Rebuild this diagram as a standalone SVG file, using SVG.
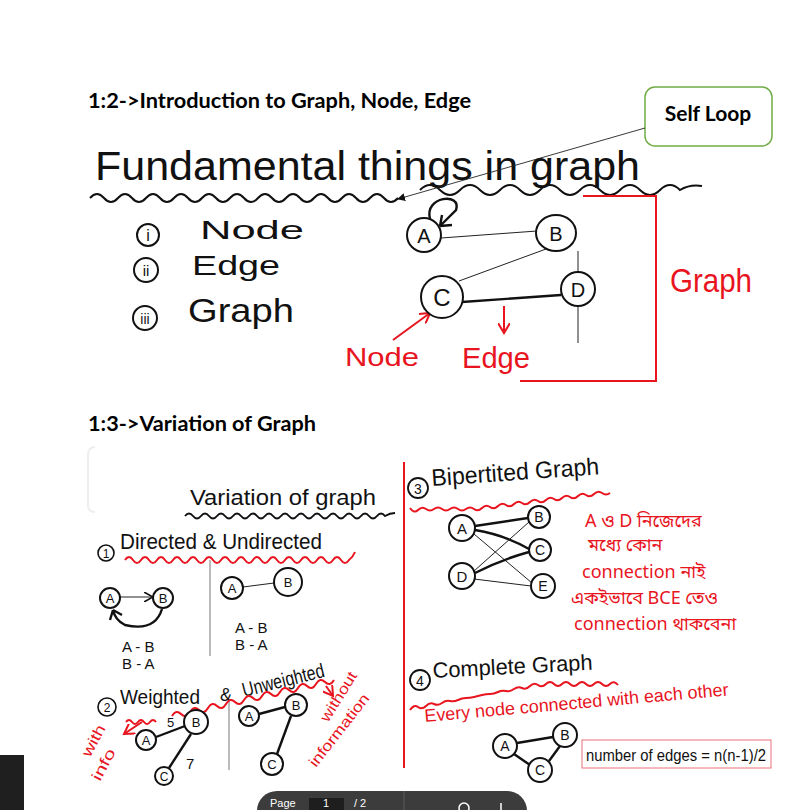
<svg xmlns="http://www.w3.org/2000/svg" width="789" height="810" viewBox="0 0 789 810">
<defs>
<style>
.h{font-family:"Lato","Liberation Sans",sans-serif;font-weight:bold;fill:#000}
.w{font-family:"Liberation Sans Narrow","Liberation Sans",sans-serif;fill:#111}
.r{font-family:"Liberation Sans Narrow","Liberation Sans",sans-serif;fill:#e8141e}
.bn{font-family:"Noto Sans Bengali","Noto Sans","Liberation Sans",sans-serif;fill:#e8141e}
.n{fill:#fff;stroke:#111;stroke-width:2}
.nt{font-family:"Liberation Sans",sans-serif;fill:#111;text-anchor:middle}
.e{stroke:#222;stroke-width:1;fill:none}
.eb{stroke:#111;stroke-width:2.4;fill:none}
.wv{fill:none;stroke:#111;stroke-width:2}
.wr{fill:none;stroke:#e8141e;stroke-width:2}
.red{stroke:#e8141e;stroke-width:2;fill:none}
</style>
<marker id="ah" markerWidth="8" markerHeight="8" refX="7" refY="4" orient="auto" markerUnits="userSpaceOnUse"><path d="M0,0 L8,4 L0,8 z" fill="#111"/></marker>
<marker id="ao" markerWidth="10" markerHeight="10" refX="8" refY="5" orient="auto" markerUnits="userSpaceOnUse"><path d="M0,0 L9,5 L0,10" fill="none" stroke="#111" stroke-width="1.6"/></marker>
<marker id="ar" markerWidth="12" markerHeight="12" refX="10" refY="6" orient="auto" markerUnits="userSpaceOnUse"><path d="M0,0 L10,6 L0,12" fill="none" stroke="#e8141e" stroke-width="2"/></marker>
</defs>
<rect width="789" height="810" fill="#fff"/>

<!-- Section 1 -->
<text class="h" x="88" y="108" font-size="21" textLength="383" lengthAdjust="spacingAndGlyphs">1:2-&gt;Introduction to Graph, Node, Edge</text>

<g id="selfloop-callout">
<rect x="645" y="87" width="127" height="59" rx="10" fill="#fff" stroke="#70ad47" stroke-width="1.5"/>
<text class="h" x="708" y="121" font-size="21" text-anchor="middle">Self Loop</text>
</g>

<g id="title1">
<text class="w" x="95" y="180" font-size="40" textLength="545" lengthAdjust="spacingAndGlyphs">Fundamental things in graph</text>
<path class="wv" d="M90 198 q7 -8 14 0 t14 0 t14 0 t14 0 t14 0 t14 0 t14 0 t14 0 t14 0 t14 0 t14 0 t14 0 t14 0 t14 0 t14 0 t14 0 t14 0 t14 0 t14 0 t14 0 t14 0 t14 0"/>
<path class="wv" d="M420 190 q10 -10 20 0 t20 0 t20 0 t20 0 t20 0 t20 0 t20 0 t20 0 t20 0 t20 0 t20 0 t20 0 t20 0 q10 -6 22 -4"/>
</g>

<g id="connectors">
<line x1="645" y1="128" x2="398" y2="199" stroke="#222" stroke-width="0.9" marker-end="url(#ah)"/>
<line class="e" x1="441" y1="238" x2="537" y2="231"/>
<line class="e" x1="546" y1="249" x2="459" y2="281"/>
<line class="e" x1="578" y1="272" x2="578" y2="251"/>
<line class="e" x1="578" y1="343" x2="578" y2="307"/>
<line class="eb" x1="462" y1="302" x2="561" y2="295"/>
<path class="eb" d="M430 219 C424 196 462 192 456 210 L440 226 M440 226 L452 225 M440 226 L442 215"/>
<path class="red" d="M393 340 L430 313" marker-end="url(#ar)"/>
<path class="red" d="M504 306 L504 333" marker-end="url(#ar)"/>
<!-- section 2 connectors -->
<line class="e" x1="120" y1="597" x2="152" y2="597" marker-end="url(#ao)"/>
<path class="eb" d="M162 609 Q155 632 125 625 Q115 620 113 610" stroke-width="2"/>
<path class="eb" d="M113 610 l-3 10 M113 610 l9 5" stroke-width="2"/>
<line class="e" x1="243" y1="587" x2="274" y2="583"/>
<line class="eb" x1="156" y1="737" x2="185" y2="726" stroke-width="2"/>
<line class="eb" x1="191" y1="734" x2="169" y2="768" stroke-width="2"/>
<line class="eb" x1="259" y1="714" x2="285" y2="707" stroke-width="2"/>
<line class="eb" x1="291" y1="716" x2="277" y2="754" stroke-width="2"/>
<!-- bipartite -->
<path class="eb" d="M475 526 L528 518" stroke-width="2"/>
<path class="eb" d="M475 530 Q505 535 529 549" stroke-width="2"/>
<line class="e" x1="474" y1="534" x2="532" y2="583" stroke-width="0.7"/>
<line class="e" x1="474" y1="571" x2="529" y2="522" stroke-width="0.7"/>
<path class="eb" d="M475 573 Q500 560 529 552" stroke-width="2"/>
<line class="e" x1="474" y1="579" x2="531" y2="586" stroke-width="0.7"/>
<!-- complete -->
<line class="eb" x1="517" y1="743" x2="553" y2="737" stroke-width="2"/>
<line class="eb" x1="514" y1="754" x2="530" y2="765" stroke-width="2"/>
<line class="eb" x1="560" y1="746" x2="549" y2="761" stroke-width="2"/>
<!-- dividers -->
<line x1="210" y1="560" x2="210" y2="656" stroke="#777" stroke-width="1"/>
<line x1="229" y1="700" x2="229" y2="770" stroke="#777" stroke-width="1"/>
<line x1="404" y1="462" x2="404" y2="768" stroke="#e8141e" stroke-width="2"/>
</g>

<g id="list1">
<circle cx="148" cy="235" r="11" fill="none" stroke="#111" stroke-width="2"/>
<text class="nt" x="148" y="241" font-size="16">i</text>
<text class="w" x="200" y="239" font-size="26" textLength="104" lengthAdjust="spacingAndGlyphs">Node</text>
<circle cx="146" cy="270" r="12" fill="none" stroke="#111" stroke-width="2"/>
<text class="nt" x="146" y="276" font-size="15">ii</text>
<text class="w" x="192" y="275" font-size="27" textLength="88" lengthAdjust="spacingAndGlyphs">Edge</text>
<circle cx="145" cy="318" r="12" fill="none" stroke="#111" stroke-width="2"/>
<text class="nt" x="145" y="324" font-size="14">iii</text>
<text class="w" x="188" y="322" font-size="33" textLength="106" lengthAdjust="spacingAndGlyphs">Graph</text>
</g>

<g id="node-A"><circle class="n" cx="424" cy="235" r="17"/><text class="nt" x="424" y="243" font-size="20">A</text></g>
<g id="node-B"><ellipse class="n" cx="556" cy="233" rx="20" ry="18"/><text class="nt" x="556" y="241" font-size="20">B</text></g>
<g id="node-C"><circle class="n" cx="442" cy="297" r="21" stroke-width="3"/><text class="nt" x="442" y="306" font-size="24">C</text></g>
<g id="node-D"><circle class="n" cx="578" cy="289" r="17"/><text class="nt" x="578" y="297" font-size="20">D</text></g>

<g id="labels1">
<text class="r" x="345" y="366" font-size="26" textLength="74" lengthAdjust="spacingAndGlyphs">Node</text>
<text class="r" x="462" y="368" font-size="30" textLength="68" lengthAdjust="spacingAndGlyphs">Edge</text>
<path class="red" d="M583 196 L656 196 L656 381 L520 381"/>
<text class="r" x="670" y="292" font-size="34" textLength="82" lengthAdjust="spacingAndGlyphs">Graph</text>
</g>

<!-- Section 2 -->
<text class="h" x="88" y="431" font-size="21" textLength="228" lengthAdjust="spacingAndGlyphs">1:3-&gt;Variation of Graph</text>
<path d="M95 447 Q88 447 88 455 L88 505 Q88 512 95 512" fill="none" stroke="#eee" stroke-width="2"/>

<g id="title2">
<text class="w" x="190" y="505" font-size="22" textLength="186" lengthAdjust="spacingAndGlyphs">Variation of graph</text>
<path class="wv" d="M185 516 q4 -5 8 0 t8 0 t8 0 t8 0 t8 0 t8 0 t8 0 t8 0 t8 0 t8 0 t8 0 t8 0 t8 0 t8 0 t8 0 t8 0 t8 0 t8 0 t8 0 t8 0 t8 0 t8 0 t8 0 t8 0 t8 0 q5 -3 10 -3" stroke-width="1.6"/>
</g>

<g id="directed">
<circle cx="106" cy="553" r="8" fill="none" stroke="#111" stroke-width="1.6"/>
<text class="nt" x="106" y="558" font-size="12">1</text>
<text class="w" x="120" y="549" font-size="22" textLength="202" lengthAdjust="spacingAndGlyphs">Directed &amp; Undirected</text>
<path class="wr" d="M125 560 q4 -6 8 0 t8 0 t8 0 t8 0 t8 0 t8 0 t8 0 t8 0 t8 0 t8 0 t8 0 t8 0 t8 0 t8 0 t8 0 t8 0 t8 0 t8 0 t8 0 t8 0 t8 0 t8 0 t8 0 t8 0 t8 0 t8 0 t8 0 t8 0 q4 -3 6 -8"/>
<g id="d-A"><circle class="n" cx="110" cy="598" r="10" stroke-width="1.8"/><text class="nt" x="110" y="603" font-size="13">A</text></g>
<g id="d-B"><circle class="n" cx="163" cy="598" r="10" stroke-width="1.8"/><text class="nt" x="163" y="603" font-size="13">B</text></g>
<text class="w" x="122" y="652" font-size="15">A - B</text>
<text class="w" x="122" y="669" font-size="15">B - A</text>
<g id="u-A"><circle class="n" cx="232" cy="588" r="11" stroke-width="1.8"/><text class="nt" x="232" y="593" font-size="13">A</text></g>
<g id="u-B"><circle class="n" cx="288" cy="582" r="14" stroke-width="1.8"/><text class="nt" x="288" y="587" font-size="13">B</text></g>
<text class="w" x="235" y="633" font-size="15">A - B</text>
<text class="w" x="235" y="650" font-size="15">B - A</text>
</g>

<g id="weighted">
<circle cx="107" cy="707" r="9" fill="none" stroke="#111" stroke-width="1.6"/>
<text class="nt" x="107" y="712" font-size="12">2</text>
<text class="w" x="120" y="704" font-size="21" textLength="80" lengthAdjust="spacingAndGlyphs">Weighted</text>
<text class="w" x="220" y="701" font-size="18">&amp;</text>
<text class="w" x="244" y="697" font-size="20" textLength="84" lengthAdjust="spacingAndGlyphs" transform="rotate(-14 244 697)">Unweighted</text>
<path class="wr" d="M172 716 q4 -7 9 -2 t9 -2 t9 -2 t9 -2 t9 -2 t9 -2 t9 -2 t9 -2 t9 -2 t9 -2 t9 -2 t9 -2 t9 -2 t9 -2 t9 -2 t9 -2 t9 -2 t9 -2"/>
<path class="red" d="M326 686 L333 696" marker-end="url(#ar)"/>
<path class="red" d="M142 722 L124 734" marker-end="url(#ar)"/>
<path class="wr" d="M126 722 q3 -4 6 0 t6 0 t6 0 t6 0 t6 0" stroke-width="1.6"/>
<text class="r" x="90" y="758" font-size="15" textLength="34" lengthAdjust="spacingAndGlyphs" transform="rotate(-62 90 758)">with</text>
<text class="r" x="100" y="782" font-size="15" textLength="34" lengthAdjust="spacingAndGlyphs" transform="rotate(-62 100 782)">info</text>
<g id="w-A"><circle class="n" cx="146" cy="740" r="10" stroke-width="1.8"/><text class="nt" x="146" y="745" font-size="13">A</text></g>
<g id="w-B"><circle class="n" cx="196" cy="722" r="12" stroke-width="1.8"/><text class="nt" x="196" y="727" font-size="13">B</text></g>
<g id="w-C"><circle class="n" cx="164" cy="776" r="9" stroke-width="1.8"/><text class="nt" x="164" y="781" font-size="12">C</text></g>
<text class="w" x="167" y="727" font-size="13">5</text>
<text class="w" x="186" y="769" font-size="15">7</text>
<g id="uw-A"><circle class="n" cx="249" cy="716" r="10" stroke-width="1.8"/><text class="nt" x="249" y="721" font-size="13">A</text></g>
<g id="uw-B"><circle class="n" cx="296" cy="705" r="11" stroke-width="1.8"/><text class="nt" x="296" y="710" font-size="13">B</text></g>
<g id="uw-C"><circle class="n" cx="272" cy="764" r="11" stroke-width="1.8"/><text class="nt" x="272" y="769" font-size="13">C</text></g>
<text class="r" x="328" y="723" font-size="15" textLength="56" lengthAdjust="spacingAndGlyphs" transform="rotate(-58 328 723)">without</text>
<text class="r" x="316" y="768" font-size="15" textLength="88" lengthAdjust="spacingAndGlyphs" transform="rotate(-52 316 768)">information</text>
</g>

<g id="bipartite">
<circle cx="418" cy="488" r="10" fill="none" stroke="#111" stroke-width="1.8"/>
<text class="nt" x="418" y="494" font-size="14">3</text>
<text class="w" x="432" y="486" font-size="24" textLength="168" lengthAdjust="spacingAndGlyphs" transform="rotate(-4 432 486)">Bipertited Graph</text>
<path class="wr" d="M410 508 q4 6 8 2 t8 -1 t8 0 t8 0 t8 0 t8 0 t8 0 t8 0 t8 -1 t8 -1 t8 -1 t8 -1 t8 -1 t8 -1 t8 -1 t8 -1 t8 -1 t8 -1 t8 -1 t8 -1 t8 -1 t8 -1 t8 -1 t8 -1 t8 0"/>
<g id="bp-A"><circle class="n" cx="462" cy="528" r="13" stroke-width="1.8"/><text class="nt" x="462" y="534" font-size="15">A</text></g>
<g id="bp-D"><circle class="n" cx="462" cy="576" r="13" stroke-width="1.8"/><text class="nt" x="462" y="582" font-size="15">D</text></g>
<g id="bp-B"><circle class="n" cx="539" cy="517" r="11" stroke-width="1.8"/><text class="nt" x="539" y="522" font-size="14">B</text></g>
<g id="bp-C"><circle class="n" cx="540" cy="550" r="11" stroke-width="1.8"/><text class="nt" x="540" y="555" font-size="14">C</text></g>
<g id="bp-E"><circle class="n" cx="543" cy="586" r="12" stroke-width="1.8"/><text class="nt" x="543" y="591" font-size="14">E</text></g>
<text class="bn" x="585" y="527" font-size="18">A ও D নিজেদের</text>
<text class="bn" x="588" y="551" font-size="18">মধ্যে কোন</text>
<text class="bn" x="582" y="578" font-size="18">connection নাই</text>
<text class="bn" x="571" y="604" font-size="18">একইভাবে BCE তেও</text>
<text class="bn" x="574" y="630" font-size="18">connection থাকবেনা</text>
</g>

<g id="complete">
<circle cx="420" cy="680" r="10" fill="none" stroke="#111" stroke-width="1.8"/>
<text class="nt" x="420" y="686" font-size="14">4</text>
<text class="w" x="433" y="678" font-size="22" textLength="160" lengthAdjust="spacingAndGlyphs" transform="rotate(-3 433 678)">Complete Graph</text>
<path class="wr" d="M410 710 q4 -6 8 -3 t8 -1 t8 -2 t8 -1 t8 -2 t8 -1 t8 -2 t8 -1 t8 -2 t8 -1 t8 -2 t8 -1 t8 -2 t8 -1 t8 -2 t8 -1 t8 -1 t8 0 t8 0 t8 0 t8 0 t8 0 t8 0 t8 0 t8 0 t8 1"/>
<text class="r" x="425" y="722" font-size="18" textLength="305" lengthAdjust="spacingAndGlyphs" transform="rotate(-5 425 722)">Every node connected with each other</text>
<g id="c-A"><circle class="n" cx="505" cy="746" r="12" stroke-width="1.8"/><text class="nt" x="505" y="751" font-size="14">A</text></g>
<g id="c-B"><circle class="n" cx="565" cy="735" r="12" stroke-width="1.8"/><text class="nt" x="565" y="740" font-size="14">B</text></g>
<g id="c-C"><circle class="n" cx="540" cy="770" r="12" stroke-width="1.8"/><text class="nt" x="540" y="775" font-size="14">C</text></g>
<g id="formula">
<rect x="582" y="740" width="189" height="28" fill="#fff" stroke="#e8707a" stroke-width="1"/>
<text class="w" x="586" y="761" font-size="16" textLength="180" lengthAdjust="spacingAndGlyphs">number of edges = n(n-1)/2</text>
</g>
</g>

<!-- viewer chrome -->
<rect x="0" y="755" width="24" height="60" fill="#1f1f1f"/>
<g id="toolbar">
<rect x="257" y="791" width="270" height="40" rx="20" fill="#3c3c3c"/>
<line x1="404" y1="791" x2="404" y2="810" stroke="#5a5a5a" stroke-width="1"/>
<rect x="309" y="798" width="35" height="12" fill="#1e1e1e"/>
<text x="270" y="807" font-family="Liberation Sans, sans-serif" font-size="11" fill="#fff">Page</text>
<text x="323" y="807" font-family="Liberation Sans, sans-serif" font-size="11" fill="#fff">1</text>
<text x="354" y="807" font-family="Liberation Sans, sans-serif" font-size="11" fill="#fff">/ 2</text>
<circle cx="464" cy="808" r="5" fill="none" stroke="#fff" stroke-width="1.5"/>
<line x1="501" y1="803" x2="501" y2="810" stroke="#fff" stroke-width="1.5"/>
</g>
</svg>
